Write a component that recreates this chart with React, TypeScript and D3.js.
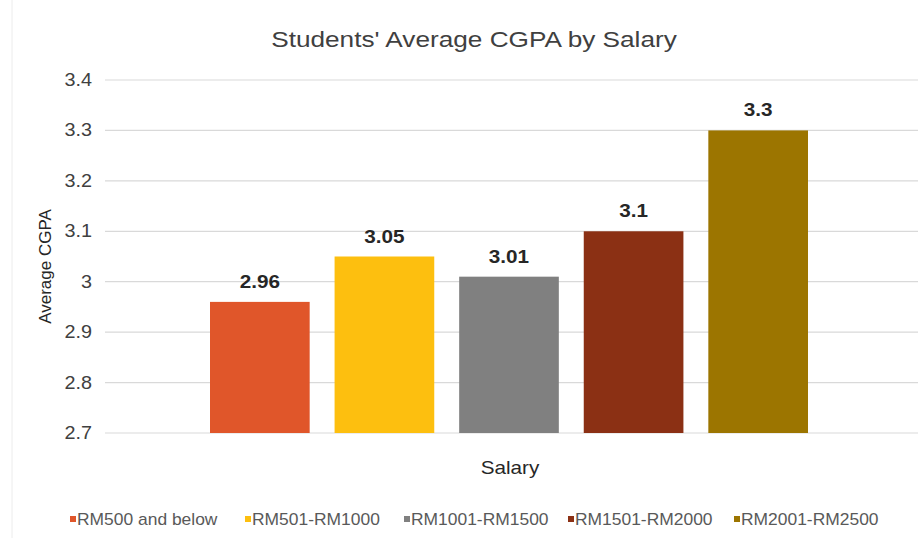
import React from "react";
import * as d3 from "d3";

const categories = ["RM500 and below", "RM501-RM1000", "RM1001-RM1500", "RM1501-RM2000", "RM2001-RM2500"];
const values = [2.96, 3.05, 3.01, 3.1, 3.3];
const colors = ["#E0562A", "#FDBF0F", "#808080", "#8B3014", "#9C7500"];
const yTicks = [2.7, 2.8, 2.9, 3.0, 3.1, 3.2, 3.3, 3.4];

const W = 920, H = 538;
const plot = { left: 105, right: 918, top: 80, bottom: 433 };
const font = "'Liberation Sans', Arial, sans-serif";

function T({ x, y, sx = 1, children, ...rest }: any) {
  return (
    <text transform={`translate(${x},${y}) scale(${sx},1)`} {...rest}>{children}</text>
  );
}

export default function App() {
  const y = d3.scaleLinear().domain([2.7, 3.4]).range([plot.bottom, plot.top]);
  const x = d3.scaleBand<string>().domain(categories).range([210, 808]).paddingInner(0.2).paddingOuter(0);
  const legendX = [70, 245, 404, 568, 734];
  return (
    <svg width={W} height={H} style={{ position: "absolute", left: 0, top: 0, background: "#fff" }} fontFamily={font}>
      <rect x={0} y={0} width={W} height={H} fill="#fff" />
      <line x1={12} x2={12} y1={0} y2={H} stroke="#ececec" />
      <T x={474} y={47} sx={1.19} textAnchor="middle" fontSize={22} fill="#404040">Students' Average CGPA by Salary</T>
      {yTicks.map((t) => (
        <g key={t}>
          <line x1={plot.left} x2={plot.right} y1={y(t)} y2={y(t)} stroke="#d9d9d9" strokeWidth={1.2} />
          <T x={92} y={y(t) + 6} sx={1.1} textAnchor="end" fontSize={18} fill="#404040">{String(+t.toFixed(1))}</T>
        </g>
      ))}
      {categories.map((c, i) => (
        <g key={c}>
          <rect x={x(c)} y={y(values[i])} width={x.bandwidth()} height={plot.bottom - y(values[i])} fill={colors[i]} />
          <T x={(x(c) as number) + x.bandwidth() / 2} y={y(values[i]) - 14} sx={1.15} textAnchor="middle" fontSize={18} fontWeight="bold" fill="#262626">{values[i]}</T>
        </g>
      ))}
      <text transform={`translate(51,${(plot.top + plot.bottom) / 2 + 10}) rotate(-90)`} textAnchor="middle" fontSize={17} fill="#262626">Average CGPA</text>
      <T x={510} y={474} sx={1.15} textAnchor="middle" fontSize={18} fill="#262626">Salary</T>
      {categories.map((c, i) => (
        <g key={"lg" + c}>
          <rect x={legendX[i]} y={516} width={6} height={6} fill={colors[i]} />
          <T x={legendX[i] + 7} y={525} sx={1.09} fontSize={16} fill="#595959">{c}</T>
        </g>
      ))}
    </svg>
  );
}
